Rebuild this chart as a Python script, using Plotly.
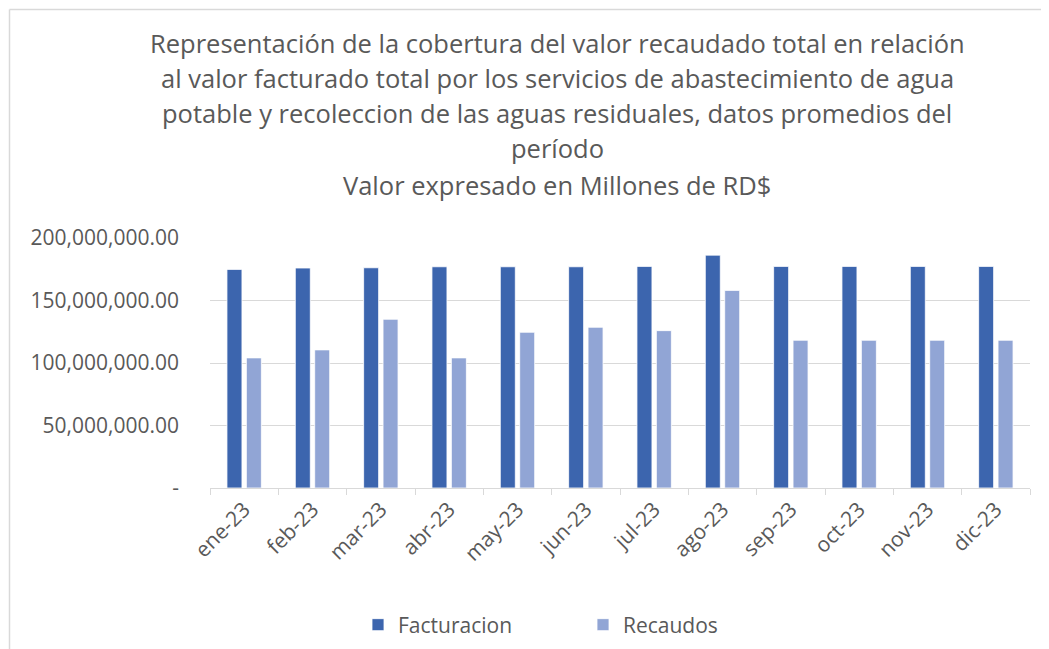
import plotly.graph_objects as go

months = ["ene-23", "feb-23", "mar-23", "abr-23", "may-23", "jun-23",
          "jul-23", "ago-23", "sep-23", "oct-23", "nov-23", "dic-23"]
facturacion = [174.9e6, 176.0e6, 176.2e6, 177.0e6, 177.0e6, 177.0e6,
               177.3e6, 186.3e6, 177.3e6, 177.3e6, 177.3e6, 177.3e6]
recaudos = [104.1e6, 110.5e6, 135.0e6, 104.1e6, 124.6e6, 128.6e6,
            125.9e6, 158.1e6, 118.2e6, 118.2e6, 118.2e6, 118.2e6]
ytick_vals = [0, 50e6, 100e6, 150e6, 200e6]
ytick_text = ["-", "50,000,000.00", "100,000,000.00", "150,000,000.00", "200,000,000.00"]
title_lines = [
    "Representación de la cobertura del valor recaudado total en relación",
    "al valor facturado total por los servicios de abastecimiento de agua",
    "potable y recoleccion de las aguas residuales, datos promedios del",
    "período",
    "Valor expresado en Millones de RD$",
]

FONT = "Open Sans"
GREY = "#595959"
OFF = 8  # page body margin
W, H = 1049 - OFF, 649 - OFF
L, T = 210 - OFF, 238 - OFF
R, B = W - (1030 - OFF), H - (488 - OFF)
pw, ph = W - L - R, H - T - B

def px_x(x):  # screen x -> paper
    return (x - OFF - L) / pw

def px_y(y):  # screen y -> paper
    return (H - B - (y - OFF)) / ph

fig = go.Figure()
fig.add_trace(go.Bar(x=months, y=facturacion, name="Facturacion",
                     marker=dict(color="#3C65AE", line=dict(color="white", width=0.8))))
fig.add_trace(go.Bar(x=months, y=recaudos, name="Recaudos",
                     marker=dict(color="#91A5D5", line=dict(color="white", width=0.8))))

annotations = []
title_y = [43, 78, 113, 148, 185]
for line, yy in zip(title_lines, title_y):
    annotations.append(dict(text=line, xref="paper", yref="paper",
                            x=px_x(557), y=px_y(yy), xanchor="center", yanchor="middle",
                            showarrow=False, font=dict(family=FONT, size=25.5, color=GREY)))

fig.update_layout(
    width=W, height=H,
    margin=dict(l=L, r=R, t=T, b=B, autoexpand=False),
    paper_bgcolor="white", plot_bgcolor="white",
    barmode="group", bargap=0.432, bargroupgap=0.227,
    font=dict(family=FONT, color=GREY),
    annotations=annotations,
    showlegend=True,
    legend=dict(orientation="h", xanchor="left", yanchor="middle",
                x=px_x(358), y=px_y(625), entrywidth=180,
                font=dict(family=FONT, size=21, color=GREY)),
    shapes=[
        dict(type="line", xref="paper", yref="paper",
             x0=px_x(9.5), x1=px_x(9.5), y0=px_y(9.5), y1=px_y(660),
             line=dict(color="#d9d9d9", width=1.5)),
        dict(type="line", xref="paper", yref="paper",
             x0=px_x(9.5), x1=px_x(1060), y0=px_y(9.5), y1=px_y(9.5),
             line=dict(color="#d9d9d9", width=1.5)),
    ],
)
fig.update_xaxes(type="category", tickangle=-45, showline=True, linecolor="#d9d9d9",
                 linewidth=1, ticks="outside", tickson="boundaries", ticklen=6,
                 tickcolor="#d9d9d9", showgrid=False, automargin=False,
                 tickfont=dict(family=FONT, size=21, color=GREY))
fig.update_yaxes(range=[0, 200e6], tickvals=ytick_vals, ticktext=ytick_text,
                 showgrid=True, gridcolor="#d9d9d9", gridwidth=1, zeroline=False,
                 showline=False, ticks="", ticklabelstandoff=30, automargin=False,
                 tickfont=dict(family=FONT, size=21, color=GREY))

fig.write_html("out.html")
